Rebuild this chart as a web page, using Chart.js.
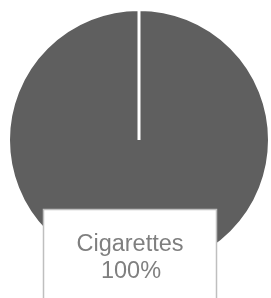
<html lang="en">
<head>
  <meta charset="UTF-8">
  <title>Cigarettes</title>
  <style>
    body { margin: 0; padding: 0; background-color: #fff; }
    #wrap { width: 271px; height: 298px; }
  </style>
</head>
<body>
  <div id="wrap"><canvas id="pieChart" width="271" height="298"></canvas></div>
  <script src="https://cdn.jsdelivr.net/npm/chart.js"></script>
  <script>
    const labels = ['Cigarettes'];
    const values = [100];
    const sliceColors = ['#5f5f5f'];

    // data label box drawn under the pie centre, like the original callout
    const labelBox = {
      id: 'labelBox',
      afterDatasetsDraw(chart) {
        const ctx = chart.ctx;
        const arc = chart.getDatasetMeta(0).data[0];
        const total = values.reduce((a, b) => a + b, 0);
        const pct = Math.round(values[0] / total * 100) + '%';
        const cx = arc.x - 9;
        const left = cx - 86.5, top = arc.y + 69.5, w = 173, h = 100;
        ctx.save();
        ctx.fillStyle = '#ffffff';
        ctx.fillRect(left, top, w, h);
        ctx.strokeStyle = '#bfbfbf';
        ctx.lineWidth = 1.5;
        ctx.strokeRect(left, top, w, h);
        ctx.fillStyle = '#7f7f7f';
        ctx.font = '23.5px "Liberation Sans", Arial, sans-serif';
        ctx.textAlign = 'center';
        ctx.textBaseline = 'alphabetic';
        ctx.fillText(labels[0], cx, arc.y + 111);
        ctx.fillText(pct, cx + 1, arc.y + 138);
        ctx.restore();
      }
    };

    new Chart(document.getElementById('pieChart').getContext('2d'), {
      type: 'pie',
      data: {
        labels: labels,
        datasets: [{
          data: values,
          backgroundColor: sliceColors,
          borderColor: '#ffffff',
          borderWidth: 3
        }]
      },
      options: {
        responsive: false,
        animation: false,
        layout: { padding: { left: 7, right: -2, top: 6, bottom: 24 } },
        plugins: {
          legend: { display: false },
          tooltip: { enabled: false }
        }
      },
      plugins: [labelBox]
    });
  </script>
</body>
</html>
